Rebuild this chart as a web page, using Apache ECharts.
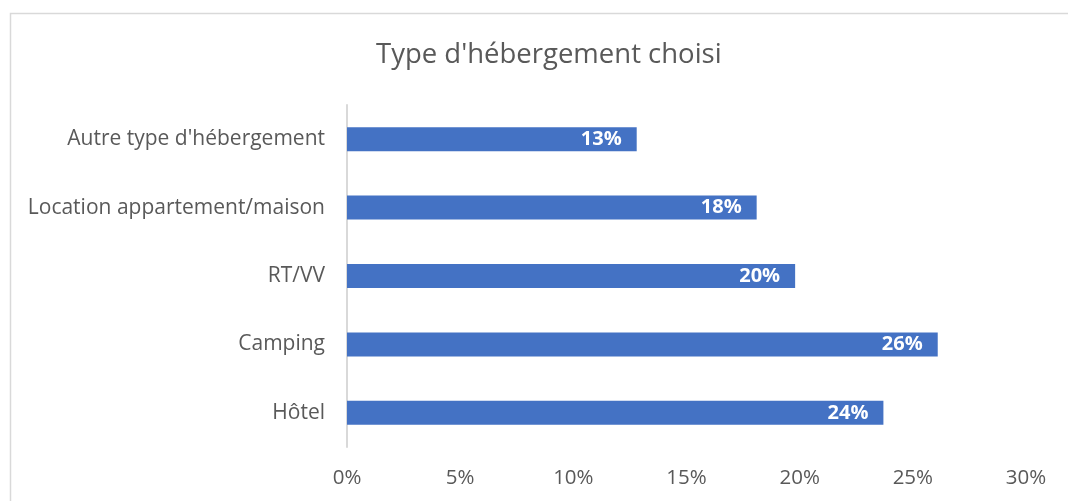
<!DOCTYPE html>
<html><head><meta charset="utf-8">
<script src="https://cdn.jsdelivr.net/npm/echarts@6/dist/echarts.min.js"></script>
<style>html,body{margin:0;padding:0;background:#fff}#c{width:1068px;height:501px}</style>
</head><body><div id="c"></div>
<script>
const titleText = "Type d'hébergement choisi";
const categories = ["Autre type d'hébergement", "Location appartement/maison", "RT/VV", "Camping", "Hôtel"];
const values = [12.8, 18.1, 19.8, 26.1, 23.7];
const valueLabels = ["13%", "18%", "20%", "26%", "24%"];
const xTicks = [0, 5, 10, 15, 20, 25, 30];

const chart = echarts.init(document.getElementById('c'), null, {renderer: 'canvas'});
const font = "'Open Sans', 'Noto Sans', sans-serif";
chart.setOption({
  animation: false,
  graphic: [{type: 'rect', shape: {x: 10.5, y: 13.5, width: 1100, height: 600},
    style: {fill: 'none', stroke: '#d9d9d9', lineWidth: 1.5}, z: -1}],
  title: {text: titleText, left: 371, top: 36,
    textStyle: {fontFamily: font, fontSize: 27.5, fontWeight: 'normal', color: '#595959'}},
  grid: {left: 347, right: 42, top: 105, bottom: 54, containLabel: false},
  xAxis: {type: 'value', min: xTicks[0], max: xTicks[xTicks.length - 1], interval: 5,
    axisLine: {show: false}, axisTick: {show: false}, splitLine: {show: false},
    axisLabel: {formatter: v => v + '%', margin: 21, color: '#595959', fontFamily: font, fontSize: 20.5}},
  yAxis: {type: 'category', data: categories, inverse: true,
    axisLine: {show: true, lineStyle: {color: '#d9d9d9', width: 2}}, axisTick: {show: false},
    axisLabel: {margin: 22, color: '#595959', fontFamily: font, fontSize: 21}},
  series: [{type: 'bar', data: values, barWidth: 24,
    itemStyle: {color: '#4472C4'},
    label: {show: true, position: 'insideRight', distance: 15,
      formatter: p => valueLabels[p.dataIndex],
      color: '#fff', fontWeight: 'bold', fontFamily: font, fontSize: 20}}]
});
</script></body></html>
